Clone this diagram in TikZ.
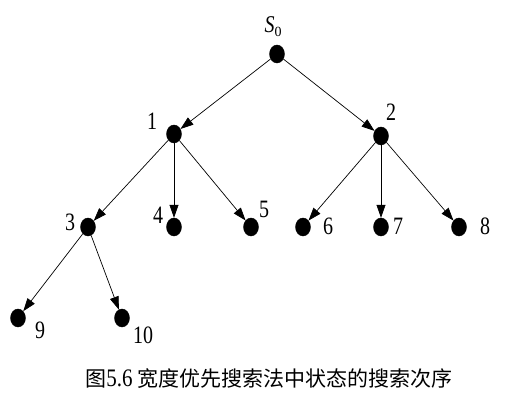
\documentclass[tikz,border=0pt]{standalone}
\usepackage{fontspec}
\usepackage{graphicx}
\setmainfont{Liberation Serif}
\newfontfamily\cjk{Noto Sans CJK SC}
\usetikzlibrary{arrows.meta,shapes.geometric}
\tikzset{
  dot/.style={ellipse, fill=black, draw=black, inner sep=0pt, minimum width=15pt, minimum height=18pt},
  lbl/.style={inner sep=0pt, font=\fontsize{20}{20}\selectfont},
  edge/.style={draw=black, line width=0.7pt, -{Triangle[length=13pt,width=9pt]}},
}
\begin{document}
\begin{tikzpicture}[x=1pt,y=-1pt]
\useasboundingbox (0,0) rectangle (525,416);
\node[dot] (s0) at (277,54) {};
\node[dot] (n1) at (174,134) {};
\node[dot] (n2) at (381,136) {};
\node[dot] (n3) at (88,227) {};
\node[dot] (n4) at (174,227) {};
\node[dot] (n5) at (251,227) {};
\node[dot] (n6) at (303,227) {};
\node[dot] (n7) at (381,227) {};
\node[dot] (n8) at (459,227) {};
\node[dot] (n9) at (18,318) {};
\node[dot] (n10) at (122,318) {};
\node[lbl] (ls0) at (273,27) {\scalebox{1}[1.2]{\itshape S}\raisebox{-4pt}{\fontsize{14}{14}\selectfont 0}};
\node[lbl] (l1) at (152,121) {\scalebox{1}[1.25]{1}};
\node[lbl] (l2) at (391,112) {\scalebox{1}[1.25]{2}};
\node[lbl] (l3) at (70,222) {\scalebox{1}[1.25]{3}};
\node[lbl] (l4) at (158,215) {\scalebox{1}[1.25]{4}};
\node[lbl] (l5) at (264,209) {\scalebox{1}[1.25]{5}};
\node[lbl] (l6) at (328,226) {\scalebox{1}[1.25]{6}};
\node[lbl] (l7) at (398,226) {\scalebox{1}[1.25]{7}};
\node[lbl] (l8) at (485,226) {\scalebox{1}[1.25]{8}};
\node[lbl] (l9) at (40,330) {\scalebox{1}[1.25]{9}};
\node[lbl] (l10) at (143,335) {\scalebox{1}[1.25]{10}};
\node[inner sep=0pt, font=\fontsize{21}{21}\selectfont] (cap) at (269,379) {\cjk 图\rmfamily\scalebox{1}[1.2]{5.6} \cjk 宽度优先搜索法中状态的搜索次序};
\draw[edge] (s0) -- (n1);
\draw[edge] (s0) -- (n2);
\draw[edge] (n1) -- (n3);
\draw[edge] (n1) -- (n4);
\draw[edge] (n1) -- (n5);
\draw[edge] (n2) -- (n6);
\draw[edge] (n2) -- (n7);
\draw[edge] (n2) -- (n8);
\draw[edge] (n3) -- (n9);
\draw[edge] (n3) -- (n10);
\end{tikzpicture}
\end{document}
